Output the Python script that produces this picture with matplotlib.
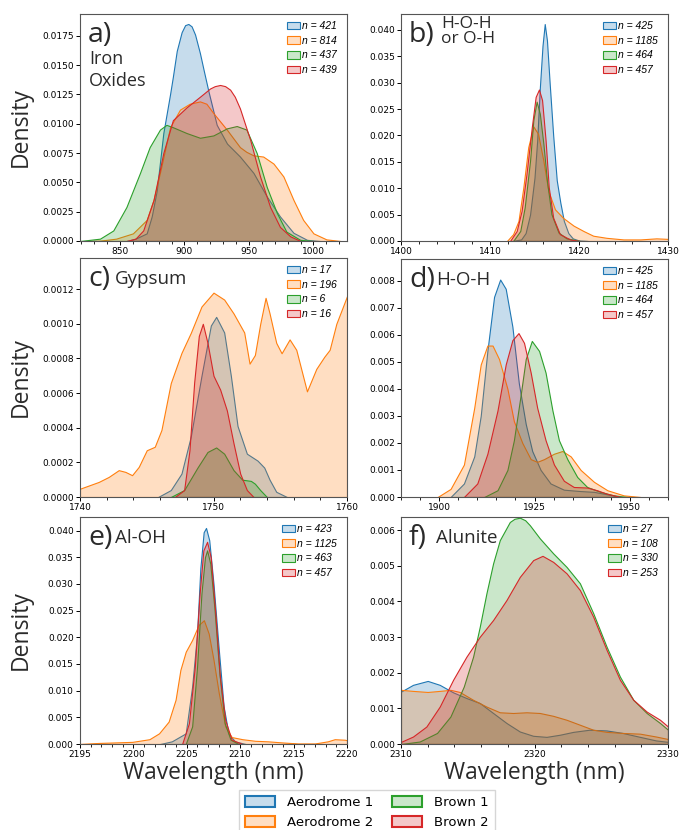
import numpy as np
import matplotlib
matplotlib.use("Agg")
import matplotlib.pyplot as plt
from matplotlib.patches import Patch
from matplotlib.ticker import MultipleLocator
from matplotlib.colors import to_rgba

# sample groups and colours
groups = ["Aerodrome 1", "Aerodrome 2", "Brown 1", "Brown 2"]
colors = ["#1f77b4", "#ff7f0e", "#2ca02c", "#d62728"]

# ---- a) Iron oxides : (wavelength, density)
a_aero1 = [(855, 0.0), (862, 0.0002), (870.7, 0.00065), (874.6, 0.0021), (878.5, 0.0043),
           (883.6, 0.0092), (888.8, 0.0125), (891, 0.0140), (894, 0.0162), (897.8, 0.0178),
           (900.5, 0.0184), (903, 0.0185), (905.5, 0.0183), (908.2, 0.0176), (912, 0.0160),
           (915, 0.0145), (918.5, 0.0128), (925, 0.0099), (933, 0.0083), (943, 0.0072),
           (953.5, 0.0058), (963.8, 0.0038), (974, 0.0021), (984.5, 0.0007), (995, 0.0001), (1005, 0.0)]
a_aero2 = [(825, 0.0), (834.5, 0.00003), (847, 0.0002), (860, 0.00065), (870.7, 0.0018),
           (876, 0.0035), (882, 0.0063), (888.8, 0.0097), (896.5, 0.0112), (904, 0.0117),
           (912, 0.0119), (917, 0.0117), (922.4, 0.0109), (932.8, 0.0095), (943, 0.008), (948, 0.0076),
           (953.5, 0.0073), (961, 0.0072), (969, 0.0066), (976.7, 0.0055), (984.5, 0.0035), (992, 0.0018),
           (1000, 0.00065), (1010, 0.00014), (1021, 0.0)]
a_brown1 = [(819, 0.0), (834.5, 0.0002), (844.8, 0.0009), (855, 0.0029), (865.5, 0.0058),
            (873, 0.008), (881, 0.0095), (886, 0.0099), (891, 0.0097), (901.7, 0.0092),
            (912, 0.0088), (922.4, 0.009), (932.8, 0.0096), (940.5, 0.0098), (948, 0.0095),
            (956, 0.0075), (963.8, 0.0046), (971.6, 0.0024), (979, 0.0008), (989.7, 0.0001), (1000, 0.0)]
a_brown2 = [(855, 0.0), (862, 0.0002), (868, 0.0009), (876, 0.0035), (883.6, 0.0075),
            (891, 0.0103), (901.7, 0.0114), (912, 0.0123), (919.8, 0.013), (923.5, 0.0132),
            (927.6, 0.0133), (931.5, 0.0132), (935.4, 0.0129), (939, 0.0123), (943, 0.0113),
            (951, 0.0086), (958.6, 0.0055), (966.4, 0.0029), (974, 0.0012), (982, 0.0004), (990, 0.0)]
a_counts = [421, 814, 437, 439]

# ---- b) H-O-H or O-H
b_aero1 = [(1412.5, 0.0), (1413.5, 0.0003), (1414.0, 0.0015), (1414.5, 0.005), (1415.0, 0.012),
           (1415.3, 0.019), (1415.6, 0.029), (1415.9, 0.037), (1416.15, 0.0411), (1416.4, 0.038),
           (1416.7, 0.030), (1417.1, 0.020), (1417.5, 0.0115), (1417.9, 0.0073), (1418.3, 0.0038),
           (1418.8, 0.0015), (1419.3, 0.0005), (1420, 0.0001), (1421, 0.0)]
b_aero2 = [(1411.9, 0.0), (1412.6, 0.0013), (1413.2, 0.0038), (1413.75, 0.0102), (1414.3, 0.0178),
           (1414.87, 0.0217), (1415.4, 0.0203), (1416.0, 0.0152), (1416.55, 0.0095), (1417.3, 0.006),
           (1418.2, 0.0044), (1419.4, 0.0029), (1420.5, 0.0019), (1421.6, 0.001), (1423.1, 0.0006),
           (1425, 0.0003), (1426.9, 0.0003), (1428.7, 0.0005), (1430, 0.0004)]
b_brown1 = [(1412.6, 0.0), (1413.4, 0.0019), (1413.9, 0.0064), (1414.5, 0.0152), (1414.87, 0.0229),
            (1415.24, 0.0264), (1415.6, 0.0241), (1416.0, 0.0184), (1416.4, 0.0114), (1416.9, 0.0051),
            (1417.7, 0.0016), (1418.6, 0.0005), (1420.1, 0.0)]
b_brown2 = [(1412.25, 0.0), (1413.0, 0.0019), (1413.55, 0.0057), (1414.1, 0.0127), (1414.7, 0.0216),
            (1415.13, 0.0273), (1415.5, 0.0287), (1415.85, 0.0267), (1416.25, 0.019), (1416.6, 0.0102),
            (1417.1, 0.0044), (1417.85, 0.0013), (1419.0, 0.0003), (1420.1, 0.0)]
b_counts = [425, 1185, 464, 457]

# ---- c) Gypsum
c_aero1 = [(1745.85, 0.0), (1746.8, 0.00004), (1747.6, 0.000135), (1748.3, 0.00035), (1749.1, 0.0007),
           (1749.8, 0.00099), (1750.2, 0.00104), (1750.8, 0.00095), (1751.3, 0.0007), (1751.8, 0.00041),
           (1752.5, 0.00025), (1753.3, 0.00021), (1753.8, 0.00017), (1754.2, 0.0001), (1754.7, 0.00003),
           (1755.5, 0.0)]
c_aero2 = [(1740, 0.000048), (1741.4, 0.000087), (1742.15, 0.000116), (1742.9, 0.000155), (1743.4, 0.000145),
           (1743.9, 0.000126), (1744.4, 0.000174), (1745.0, 0.00027), (1745.6, 0.00029), (1746.1, 0.000387),
           (1746.8, 0.000658), (1747.6, 0.000832), (1748.3, 0.000948), (1749.1, 0.0011), (1750.0, 0.00118),
           (1750.8, 0.00114), (1751.5, 0.00106), (1752.3, 0.00095), (1752.7, 0.00077), (1753.1, 0.00082),
           (1753.5, 0.001), (1753.9, 0.00115), (1754.2, 0.00106), (1754.7, 0.00089), (1755.1, 0.00083),
           (1755.7, 0.00091), (1756.2, 0.00085), (1757.0, 0.00061), (1757.7, 0.00074), (1758.3, 0.00081),
           (1758.7, 0.00085), (1759.2, 0.001), (1760, 0.00116)]
c_brown1 = [(1746.8, 0.0), (1747.8, 0.00004), (1748.8, 0.00017), (1749.55, 0.00026), (1750.2, 0.000286),
            (1750.8, 0.00025), (1751.5, 0.000155), (1752.15, 0.0001), (1752.8, 0.000093), (1753.1, 0.000077),
            (1753.5, 0.00004), (1754.0, 0.0)]
c_brown2 = [(1747.1, 0.0), (1747.8, 0.00004), (1748.2, 0.00027), (1748.55, 0.00066), (1748.9, 0.00093),
            (1749.2, 0.001), (1749.55, 0.00089), (1750.0, 0.0007), (1750.5, 0.00062), (1751.0, 0.0005),
            (1751.5, 0.00031), (1752.0, 0.000135), (1752.5, 0.00004), (1753.0, 0.0)]
c_counts = [17, 196, 6, 16]

# ---- d) H-O-H
d_aero1 = [(1903, 0.0), (1906.5, 0.0005), (1909.2, 0.0015), (1910.9, 0.003), (1912.65, 0.0054),
           (1914.4, 0.0074), (1916.0, 0.00804), (1917.45, 0.0077), (1919.2, 0.0063), (1920.9, 0.0042),
           (1922.7, 0.0027), (1924.4, 0.0017), (1926.6, 0.001), (1929.2, 0.0005), (1932.7, 0.00027),
           (1937.0, 0.00022), (1940.6, 0.00019), (1944.0, 0.0001), (1947.6, 0.0)]
d_aero2 = [(1899.6, 0.0), (1903.0, 0.0003), (1906.5, 0.0012), (1909.2, 0.0033), (1910.9, 0.0049),
           (1912.65, 0.0056), (1914.0, 0.0056), (1915.7, 0.0051), (1917.9, 0.004), (1919.6, 0.0028),
           (1921.8, 0.002), (1924.0, 0.0014), (1925.7, 0.0013), (1927.5, 0.0014), (1930.1, 0.0016),
           (1932.3, 0.0017), (1934.5, 0.0015), (1937.1, 0.001), (1940.6, 0.00056), (1944.1, 0.00025),
           (1948.4, 0.00006), (1952.8, 0.0)]
d_brown1 = [(1911.8, 0.0), (1915.3, 0.00025), (1917.9, 0.001), (1919.6, 0.0021), (1921.4, 0.0038),
            (1922.7, 0.0051), (1924.3, 0.00577), (1926.2, 0.0054), (1927.9, 0.0046), (1929.7, 0.0032),
            (1931.4, 0.0021), (1933.6, 0.0014), (1936.2, 0.00074), (1938.8, 0.00037), (1942.3, 0.00019),
            (1945.8, 0.00006), (1949.3, 0.0)]
d_brown2 = [(1906.5, 0.0), (1910.0, 0.0005), (1912.65, 0.0016), (1915.3, 0.0032), (1917.45, 0.0049),
            (1919.2, 0.0058), (1920.8, 0.00606), (1922.25, 0.0057), (1924.0, 0.0046), (1925.7, 0.0033),
            (1927.9, 0.0021), (1930.1, 0.0012), (1932.7, 0.0006), (1935.3, 0.00037), (1938.8, 0.00035),
            (1941.4, 0.00025), (1944.0, 0.00012), (1947.6, 0.0)]
d_counts = [425, 1185, 464, 457]

# ---- e) Al-OH
e_aero1 = [(2202.5, 0.0), (2203.6, 0.0005), (2204.9, 0.002), (2205.5, 0.0108), (2205.96, 0.0207),
           (2206.27, 0.033), (2206.58, 0.0397), (2206.8, 0.0405), (2207.1, 0.0382), (2207.5, 0.030),
           (2208.0, 0.0176), (2208.45, 0.007), (2208.9, 0.002), (2209.5, 0.0005), (2210.5, 0.0)]
e_aero2 = [(2195, 0.0), (2196.8, 0.0002), (2199.9, 0.0004), (2201.5, 0.0009), (2202.4, 0.002),
           (2203.3, 0.0042), (2203.95, 0.0083), (2204.4, 0.0139), (2204.9, 0.0173), (2205.5, 0.0195),
           (2206.1, 0.0223), (2206.6, 0.0232), (2207.05, 0.0207), (2207.5, 0.0158), (2208.0, 0.0095),
           (2208.6, 0.0033), (2209.2, 0.0013), (2210.2, 0.0009), (2211.4, 0.0006), (2212.6, 0.0005),
           (2213.9, 0.0003), (2215.4, 0.0001), (2217.0, 0.0001), (2218.2, 0.0005), (2218.85, 0.0009),
           (2219.8, 0.0008), (2220, 0.0007)]
e_brown1 = [(2204.9, 0.0), (2205.5, 0.0033), (2205.96, 0.0145), (2206.37, 0.0282), (2206.7, 0.035),
            (2206.9, 0.0363), (2207.2, 0.0338), (2207.6, 0.0251), (2208.05, 0.0133), (2208.55, 0.0039),
            (2209.1, 0.0008), (2209.85, 0.0)]
e_brown2 = [(2204.56, 0.0), (2205.2, 0.0039), (2205.75, 0.0145), (2206.2, 0.0282), (2206.55, 0.0363),
            (2206.9, 0.0379), (2207.24, 0.035), (2207.67, 0.0245), (2208.1, 0.0126), (2208.6, 0.0045),
            (2209.2, 0.0008), (2210.2, 0.0)]
e_counts = [423, 1125, 463, 457]

# ---- f) Alunite
f_aero1 = [(2310, 0.00147), (2310.9, 0.00166), (2312.0, 0.00177), (2312.9, 0.00166), (2313.9, 0.00145),
           (2314.9, 0.00129), (2315.9, 0.00115), (2316.9, 0.00087), (2317.9, 0.00059), (2318.9, 0.00035),
           (2319.9, 0.00023), (2320.9, 0.0002), (2321.9, 0.00026), (2322.9, 0.00034), (2324.1, 0.0004),
           (2325.4, 0.00038), (2326.6, 0.00031), (2327.9, 0.0002), (2329.1, 0.0001), (2330, 0.00006)]
f_aero2 = [(2310, 0.00152), (2310.9, 0.00149), (2312.0, 0.00146), (2312.9, 0.00149), (2313.7, 0.00152),
           (2314.4, 0.00146), (2315.4, 0.00124), (2316.4, 0.00105), (2317.4, 0.00089), (2318.4, 0.00087),
           (2319.4, 0.00089), (2320.4, 0.00087), (2321.4, 0.00079), (2322.4, 0.00068), (2323.4, 0.00054),
           (2324.4, 0.0004), (2325.4, 0.00034), (2326.6, 0.00031), (2327.9, 0.00029), (2329.1, 0.00021),
           (2330, 0.00014)]
f_brown1 = [(2310, 0.0), (2311.4, 0.00007), (2312.7, 0.00031), (2313.7, 0.00077), (2314.7, 0.00161),
            (2315.4, 0.00245), (2315.9, 0.00329), (2316.4, 0.00423), (2316.9, 0.00507), (2317.4, 0.00572),
            (2318.15, 0.00623), (2318.5, 0.00632), (2318.9, 0.00635), (2319.3, 0.00628), (2319.65, 0.00614),
            (2320.4, 0.00577), (2321.4, 0.00535), (2322.4, 0.00497), (2323.4, 0.00451), (2324.4, 0.00367),
            (2325.4, 0.00273), (2326.4, 0.00189), (2327.4, 0.00124), (2328.4, 0.00087), (2329.4, 0.00059),
            (2330, 0.0004)]
f_brown2 = [(2310, 0.00006), (2310.9, 0.00021), (2311.9, 0.00049), (2312.9, 0.00105), (2313.9, 0.0018),
            (2314.9, 0.00245), (2315.9, 0.00301), (2316.9, 0.00348), (2317.9, 0.00404), (2318.9, 0.00469),
            (2319.9, 0.00516), (2320.6, 0.00528), (2321.4, 0.00511), (2322.4, 0.00479), (2323.4, 0.00432),
            (2324.4, 0.00357), (2325.4, 0.00264), (2326.4, 0.0018), (2327.4, 0.00124), (2328.4, 0.00091),
            (2329.4, 0.00068), (2330, 0.00049)]
f_counts = [27, 108, 330, 253]

panels = [
    dict(letter="a)", name="Iron\nOxides", curves=[a_aero1, a_aero2, a_brown1, a_brown2], n=a_counts,
         xlim=(819, 1026), ylim=(0, 0.01935), xmaj=50, xmin=10, ymaj=0.0025),
    dict(letter="b)", name="H-O-H\nor O-H", curves=[b_aero1, b_aero2, b_brown1, b_brown2], n=b_counts,
         xlim=(1400, 1430), ylim=(0, 0.043), xmaj=10, xmin=2, ymaj=0.005),
    dict(letter="c)", name="Gypsum", curves=[c_aero1, c_aero2, c_brown1, c_brown2], n=c_counts,
         xlim=(1740, 1760), ylim=(0, 0.00138), xmaj=10, xmin=2, ymaj=0.0002),
    dict(letter="d)", name="H-O-H", curves=[d_aero1, d_aero2, d_brown1, d_brown2], n=d_counts,
         xlim=(1890, 1960), ylim=(0, 0.0088), xmaj=25, xmin=5, ymaj=0.001),
    dict(letter="e)", name="Al-OH", curves=[e_aero1, e_aero2, e_brown1, e_brown2], n=e_counts,
         xlim=(2195, 2220), ylim=(0, 0.04255), xmaj=5, xmin=1, ymaj=0.005),
    dict(letter="f)", name="Alunite", curves=[f_aero1, f_aero2, f_brown1, f_brown2], n=f_counts,
         xlim=(2310, 2330), ylim=(0, 0.00637), xmaj=10, xmin=2, ymaj=0.001),
]

W, H = 679, 830
fig = plt.figure(figsize=(W / 100, H / 100), dpi=100)

# axes boxes in pixels (left, top, right, bottom)
boxes = [(80, 14, 347, 241), (401, 14, 668, 241),
         (80, 258, 347, 497), (401, 259, 668, 497),
         (80, 517, 347, 744), (401, 517, 668, 744)]

label_font = "Open Sans"
txt_col = "#2a2a2a"

for i, (p, (l, t, r, b)) in enumerate(zip(panels, boxes)):
    ax = fig.add_axes([l / W, 1 - b / H, (r - l) / W, (b - t) / H])
    aw, ah = r - l, b - t
    for pts, c in zip(p["curves"], colors):
        xy = np.array(pts)
        ax.fill_between(xy[:, 0], xy[:, 1], 0, facecolor=to_rgba(c, 0.25),
                        edgecolor=c, linewidth=0.8)
    ax.set_xlim(*p["xlim"])
    ax.set_ylim(*p["ylim"])
    ax.xaxis.set_major_locator(MultipleLocator(p["xmaj"]))
    ax.xaxis.set_minor_locator(MultipleLocator(p["xmin"]))
    ax.yaxis.set_major_locator(MultipleLocator(p["ymaj"]))
    ax.tick_params(labelsize=6.5, length=3, width=0.7, pad=1.5)
    ax.tick_params(which="minor", length=1.8, width=0.6)
    for s in ax.spines.values():
        s.set_color("#555555")
        s.set_linewidth(0.8)

    # panel letter and band name
    ax.text(8 / aw, 1 - 7 / ah, p["letter"], transform=ax.transAxes,
            fontsize=20.5, family=label_font, color=txt_col, va="top", ha="left")
    if i == 0:
        ax.text(9 / aw, 1 - 36 / ah, p["name"], transform=ax.transAxes,
                fontsize=13, family=label_font, color=txt_col, va="top", ha="left",
                linespacing=1.3)
    elif i == 1:
        ax.text(40 / aw, 1 - 2 / ah, p["name"], transform=ax.transAxes,
                fontsize=12.5, family=label_font, color=txt_col, va="top", ha="left",
                linespacing=0.9)
    else:
        ax.text(35 / aw, 1 - 12 / ah, p["name"], transform=ax.transAxes,
                fontsize=13.5, family=label_font, color=txt_col, va="top", ha="left")

    handles = [Patch(facecolor=to_rgba(c, 0.25), edgecolor=c, linewidth=0.8) for c in colors]
    ax.legend(handles, [f"n = {n}" for n in p["n"]], loc="upper right",
              bbox_to_anchor=(1 - 8 / aw, 1 - 5 / ah), frameon=False,
              prop=dict(family="Liberation Sans", style="italic", size=7.5),
              handlelength=1.2, handleheight=0.75, handletextpad=0.25, labelspacing=0.45,
              borderaxespad=0, borderpad=0.2)

    if i % 2 == 0:
        ax.set_ylabel("Density", family=label_font, fontsize=16.5, color=txt_col)
        ax.yaxis.set_label_coords(-0.176, 0.5)
    if i >= 4:
        ax.set_xlabel("Wavelength (nm)", family=label_font, fontsize=16.5, color=txt_col)
        ax.xaxis.set_label_coords(0.5, -0.075)

leg_handles = [Patch(facecolor=to_rgba(c, 0.25), edgecolor=c, linewidth=1.5) for c in colors]
fig.legend(leg_handles, groups, ncol=2, loc="upper center", bbox_to_anchor=(367 / W, 1 - 790 / H),
           fontsize=9.5, handlelength=2.3, handleheight=0.9, handletextpad=0.9,
           columnspacing=1.4, borderpad=0.45, labelspacing=0.5, borderaxespad=0,
           fancybox=False, edgecolor="#cccccc")

fig.savefig("out.png", dpi=100)
